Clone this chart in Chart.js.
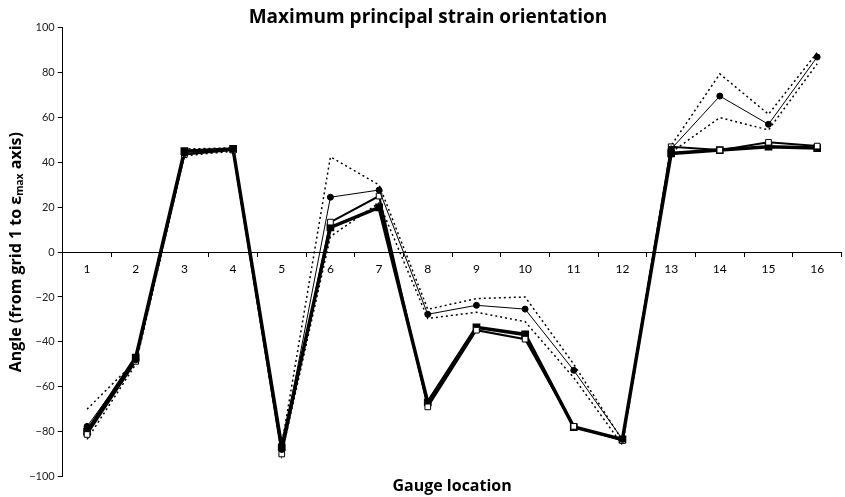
<!DOCTYPE html>
<html>
<head>
<meta charset="utf-8">
<script src="https://cdn.jsdelivr.net/npm/chart.js@4/dist/chart.umd.min.js"></script>
<style>
  html, body { margin: 0; padding: 0; background: #fff; overflow: hidden; }
  #wrap { width: 849px; height: 497px; }
</style>
</head>
<body>
<div id="wrap"><canvas id="chart"></canvas></div>
<script>
    const gauges = ['1', '2', '3', '4', '5', '6', '7', '8', '9', '10', '11', '12', '13', '14', '15', '16'];
    const yTicks = [-100, -80, -60, -40, -20, 0, 20, 40, 60, 80, 100];

    // thick line, filled squares
    const filledSq = [-80, -47, 45, 46, -87, 11, 20, -67, -33.5, -36.7, -78, -83.5, 44, 45.5, 47, 46.4];
    // medium line, open squares
    const openSq = [-81.3, -48.7, 43.5, 45.5, -90, 13.4, 25, -69, -34.8, -38.8, -77.7, -84, 47, 45.5, 49, 47.3];
    // thin line, filled circles
    const circles = [-77.7, -48, 44, 45.8, -88, 24.5, 27.7, -27.7, -23.7, -25.4, -52.7, -83.5, 46, 69.6, 57, 87];
    // dotted bounds around the circle series
    const upperBound = [-70, -48.5, 46, 46.5, -86, 42.5, 30, -25.5, -20.7, -20, -50, -84, 47.5, 79.5, 61.5, 89];
    const lowerBound = [-83.5, -50, 43, 45, -90, 7, 22, -29.6, -26.8, -31, -56, -86, 44.5, 60, 54.5, 84];

    const font = "Lato, 'Noto Sans', 'DejaVu Sans', sans-serif";
    const titleFont = "'Open Sans', 'Noto Sans', 'DejaVu Sans', sans-serif";

    const datasets = [
        {
            data: circles, borderColor: '#000', backgroundColor: '#000', borderWidth: 1,
            pointStyle: 'circle', pointRadius: 3, order: 1,
        },
        {
            data: openSq, borderColor: '#000', backgroundColor: '#fff', borderWidth: 2,
            pointStyle: 'rect', pointRadius: 4, pointBorderWidth: 1, order: 2,
        },
        {
            data: filledSq, borderColor: '#000', backgroundColor: '#000', borderWidth: 3.5,
            pointStyle: 'rect', pointRadius: 3, order: 3,
        },
        {
            data: upperBound, borderColor: '#000', borderWidth: 1.5, borderDash: [2, 3],
            pointRadius: 0, order: 4,
        },
        {
            data: lowerBound, borderColor: '#000', borderWidth: 1.5, borderDash: [2, 3],
            pointRadius: 0, order: 5,
        },
    ];

    // labels sit between ticks, so the category axes need no side padding
    const noSidePadding = (s) => { s.paddingLeft = 0; s.paddingRight = 0; };

    new Chart(document.getElementById('chart'), {
        type: 'line',
        data: { labels: gauges, datasets },
        options: {
            responsive: true,
            maintainAspectRatio: false,
            animation: false,
            layout: { padding: { left: 7, right: 0, top: 0, bottom: 0 } },
            elements: { line: { tension: 0 } },
            plugins: {
                legend: { display: false },
                tooltip: { enabled: false },
                title: {
                    display: true,
                    text: 'Maximum principal strain orientation',
                    color: '#000',
                    font: { family: titleFont, size: 19, weight: 'bold', lineHeight: 1.1 },
                    padding: { top: 7, bottom: 0 },
                },
            },
            scales: {
                x: {
                    type: 'category',
                    position: { y: 0 },
                    offset: true,
                    grid: { offset: true, drawOnChartArea: false, tickLength: 4, color: '#000' },
                    border: { color: '#000', width: 1 },
                    ticks: { color: '#000', padding: 6, font: { family: font, size: 12 } },
                    afterFit: noSidePadding,
                },
                x2: {
                    type: 'category',
                    position: 'bottom',
                    labels: gauges,
                    offset: true,
                    grid: { display: false, drawTicks: false },
                    border: { display: false },
                    ticks: { display: false, padding: 0 },
                    afterFit: noSidePadding,
                    title: {
                        display: true,
                        text: 'Gauge location',
                        color: '#000',
                        font: { family: titleFont, size: 16, weight: 'bold', lineHeight: 1.1 },
                        padding: { top: 1, bottom: 2 },
                    },
                },
                y: {
                    min: yTicks[0],
                    max: yTicks[yTicks.length - 1],
                    afterBuildTicks: (scale) => { scale.ticks = yTicks.map((v) => ({ value: v })); },
                    grid: { drawOnChartArea: false, tickLength: 5, color: '#000' },
                    border: { color: '#000', width: 1 },
                    ticks: {
                        color: '#222', padding: 3,
                        font: { family: font, size: 11 },
                        callback: (v) => (v < 0 ? '\u2212' + Math.abs(v) : String(v)),
                    },
                    title: {
                        display: true,
                        text: 'Angle (from grid 1 to \u03b5\u2098\u2090\u2093 axis)',
                        color: '#000',
                        font: { family: titleFont, size: 16, weight: 'bold' },
                        padding: { top: 0, bottom: 0 },
                    },
                },
            },
        },
    });
</script>
</body>
</html>
